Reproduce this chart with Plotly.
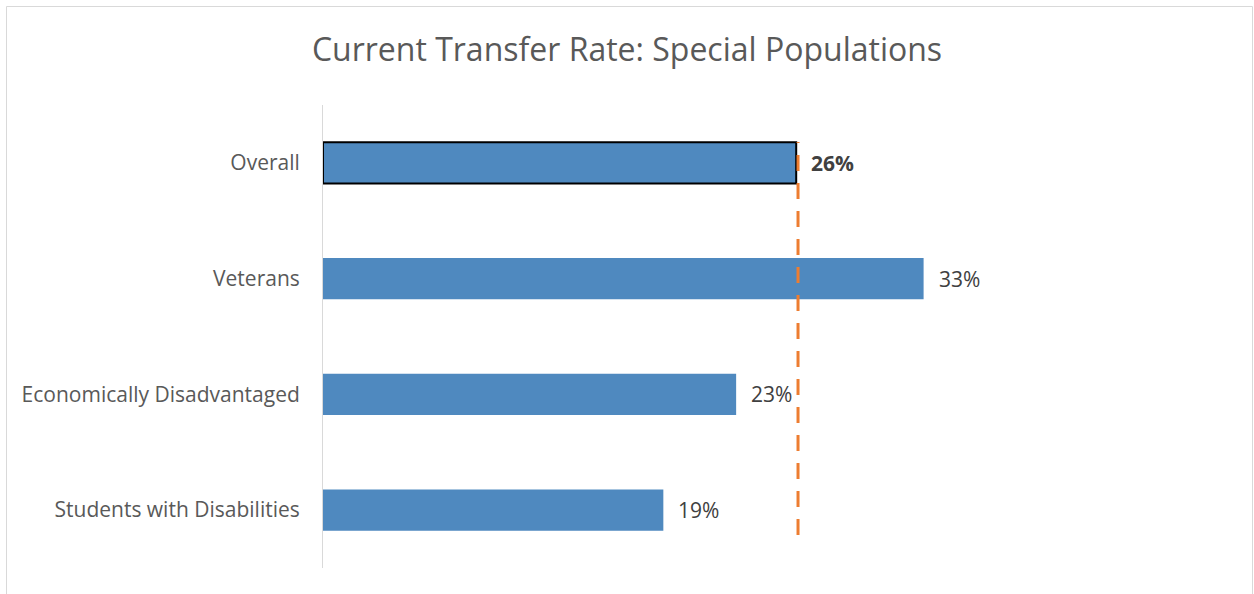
import plotly.graph_objects as go

categories = ["Overall", "Veterans", "Economically Disadvantaged", "Students with Disabilities"]
rates = [0.260, 0.330, 0.227, 0.187]
labels = ["26%", "33%", "23%", "19%"]
overall_rate = 0.261

W, H = 1254, 594
L, R, T, B = 323, 71, 105, 26
pw, ph = W - L - R, H - T - B

def px_x(x):
    return (x - L) / pw

def px_y(y):
    return (H - B - y) / ph

bar_color = "#4F89BF"
fig = go.Figure()
fig.add_trace(go.Bar(
    x=rates, y=categories, orientation="h",
    marker=dict(color=bar_color,
                line=dict(color=["#000000", bar_color, bar_color, bar_color],
                          width=[2, 0, 0, 0])),
    hoverinfo="skip", showlegend=False,
))

for c, v, t in zip(categories, rates, labels):
    bold = c == "Overall"
    fig.add_annotation(
        x=v, y=c, xref="x", yref="y", text=f"<b>{t}</b>" if bold else t,
        showarrow=False, xanchor="left", xshift=13,
        font=dict(family="Open Sans", size=21, color="#404040"),
    )

# dashed reference line at overall rate
fig.add_shape(type="line", xref="x", yref="paper",
              x0=overall_rate, x1=overall_rate, y0=px_y(535), y1=px_y(142),
              line=dict(color="#ED7D31", width=3, dash="16px,12px"), layer="above")

# chart border
fig.add_shape(type="rect", xref="paper", yref="paper",
              x0=px_x(6.5), x1=px_x(1252.5), y0=px_y(620), y1=px_y(6.5),
              line=dict(color="#D9D9D9", width=1), fillcolor="rgba(0,0,0,0)", layer="below")

fig.update_layout(
    width=W, height=H,
    margin=dict(l=L, r=R, t=T, b=B),
    paper_bgcolor="white", plot_bgcolor="white",
    bargap=0.645,
    title=dict(text="Current Transfer Rate: Special Populations",
               x=0.5, xref="container", xanchor="center",
               y=1 - 50 / H, yref="container", yanchor="middle",
               font=dict(family="Open Sans", size=32, color="#595959")),
    xaxis=dict(range=[0, pw / 1820 * 1.0], visible=False, fixedrange=True),
    yaxis=dict(categoryorder="array", categoryarray=categories[::-1],
               showline=True, linecolor="#D9D9D9", linewidth=1,
               showgrid=False, zeroline=False, ticks="",
               ticklabelstandoff=18,
               tickfont=dict(family="Open Sans", size=21, color="#595959")),
    font=dict(family="Open Sans"),
)

fig.write_html("out.html", config={"displayModeBar": False},
               post_script="document.body.style.margin='0px';document.body.style.overflow='hidden';")
